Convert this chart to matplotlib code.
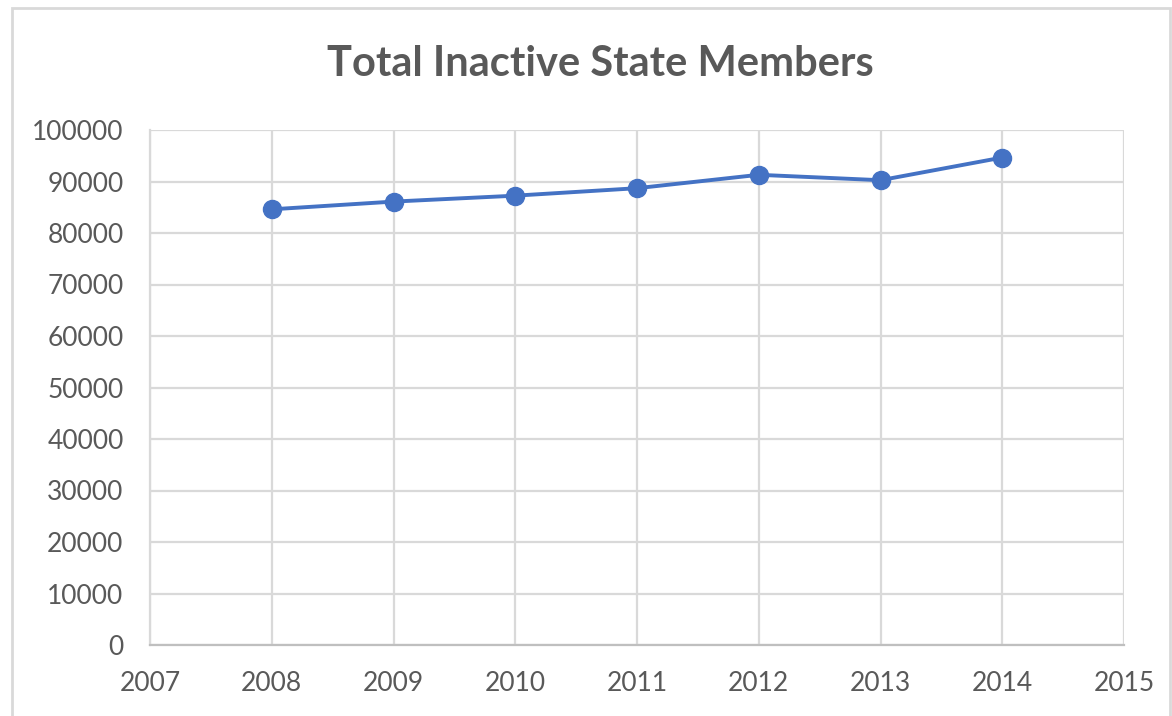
import matplotlib.pyplot as plt
from matplotlib.patches import Rectangle

# Données
years = [2008, 2009, 2010, 2011, 2012, 2013, 2014]
members = [84600, 86100, 87250, 88700, 91300, 90250, 94650]
x_ticks = list(range(2007, 2016))
y_ticks = list(range(0, 100001, 10000))

plt.rcParams['font.family'] = ['Lato', 'DejaVu Sans']

fig = plt.figure(figsize=(11.72, 7.16), dpi=100)
ax = fig.add_axes([150 / 1172, 1 - 645 / 716, (1124 - 150) / 1172, (645 - 130) / 716])

# Cadre du graphique
fig.patches.append(Rectangle((12 / 1172, -0.05), (1170 - 12) / 1172, 1.05 - 8 / 716,
                             transform=fig.transFigure, fill=False,
                             edgecolor='#d9d9d9', linewidth=2))

ax.plot(years, members, color='#4472C4', linewidth=2.8, marker='o',
        markersize=13, zorder=3)

ax.set_xlim(2007, 2015)
ax.set_ylim(0, 100000)
ax.set_xticks(x_ticks)
ax.set_yticks(y_ticks)
ax.grid(True, color='#d9d9d9', linewidth=1.6)
ax.set_axisbelow(True)
for s in ax.spines.values():
    s.set_visible(False)
ax.spines['left'].set_visible(True)
ax.spines['bottom'].set_visible(True)
ax.spines['left'].set_color('#d9d9d9')
ax.spines['bottom'].set_color('#bfbfbf')
ax.spines['left'].set_linewidth(1.6)
ax.spines['bottom'].set_linewidth(1.6)
ax.tick_params(length=0, labelsize=19, labelcolor='#595959')
ax.tick_params(axis='y', pad=19)
ax.tick_params(axis='x', pad=19)

fig.text(600 / 1172, 1 - 64 / 716, "Total Inactive State Members", ha='center',
         va='center', fontsize=30, fontweight='bold', color='#595959')

fig.savefig('out.png', dpi=100)
